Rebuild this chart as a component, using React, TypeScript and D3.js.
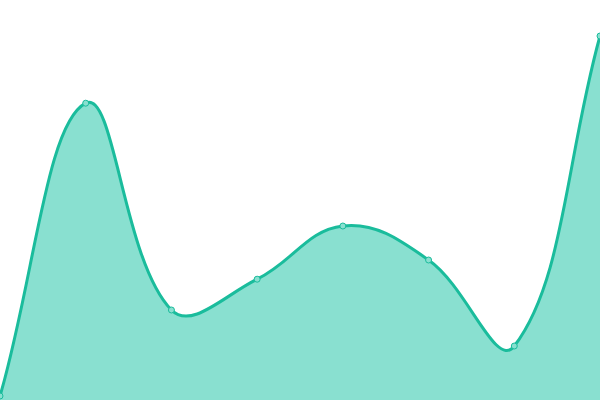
import React, { useEffect, useRef } from 'react';
import * as d3 from 'd3';

const labels = ['0', '1', '2', '3', '4', '5', '6', '7'];
const values = [1, 74.2, 22.5, 30.2, 43.5, 35, 13.5, 91];

type Pt = [number, number];

// tension-based spline (distance weighted), as a d3 curve factory
const curveSpline = (tension: number, top: number, bottom: number) => (context: any) => {
  let pts: Pt[] = [];
  let lineFlag: number = NaN;

  const controls = (prev: Pt, cur: Pt, next: Pt) => {
    const d01 = Math.hypot(cur[0] - prev[0], cur[1] - prev[1]);
    const d12 = Math.hypot(next[0] - cur[0], next[1] - cur[1]);
    let s01 = d01 / (d01 + d12);
    let s12 = d12 / (d01 + d12);
    if (isNaN(s01)) s01 = 0;
    if (isNaN(s12)) s12 = 0;
    const fa = tension * s01;
    const fb = tension * s12;
    const clampY = (v: number) => Math.max(top, Math.min(bottom, v));
    return {
      prev: [cur[0] - fa * (next[0] - prev[0]), clampY(cur[1] - fa * (next[1] - prev[1]))] as Pt,
      next: [cur[0] + fb * (next[0] - prev[0]), clampY(cur[1] + fb * (next[1] - prev[1]))] as Pt,
    };
  };

  return {
    areaStart() { lineFlag = 0; },
    areaEnd() { lineFlag = NaN; },
    lineStart() { pts = []; },
    point(x: number, y: number) { pts.push([+x, +y]); },
    lineEnd() {
      const n = pts.length;
      if (n) {
        if (lineFlag) context.lineTo(pts[0][0], pts[0][1]);
        else context.moveTo(pts[0][0], pts[0][1]);
        const cps = pts.map((p, i) =>
          controls(pts[Math.max(0, i - 1)], p, pts[Math.min(n - 1, i + 1)])
        );
        for (let i = 1; i < n; i++) {
          const a = cps[i - 1].next;
          const b = cps[i].prev;
          context.bezierCurveTo(a[0], a[1], b[0], b[1], pts[i][0], pts[i][1]);
        }
      }
      if (lineFlag || (lineFlag !== 0 && n === 1)) context.closePath();
      lineFlag = 1 - lineFlag;
    },
  };
};

const App: React.FC = () => {
  const svgRef = useRef<SVGSVGElement>(null);

  useEffect(() => {
    if (!svgRef.current) return;
    document.body.style.margin = '0';

    const width = 600;
    const height = 400;
    const svg = d3.select(svgRef.current);
    svg.selectAll('*').remove();
    svg.attr('width', width).attr('height', height);

    const x = d3.scalePoint<string>().domain(labels).range([0, width]);
    const y = d3.scaleLinear().domain([0, 100]).range([height, 0]);

    const data = labels.map((l, i) => ({ l, v: values[i] }));
    const curve = curveSpline(0.4, 0, height) as any;

    const area = d3.area<{ l: string; v: number }>()
      .x(d => x(d.l)!)
      .y0(height)
      .y1(d => y(d.v))
      .curve(curve);

    const line = d3.line<{ l: string; v: number }>()
      .x(d => x(d.l)!)
      .y(d => y(d.v))
      .curve(curve);

    svg.append('path')
      .datum(data)
      .attr('fill', '#89e0d0')
      .attr('d', area);

    svg.append('path')
      .datum(data)
      .attr('fill', 'none')
      .attr('stroke', '#1abc9c')
      .attr('stroke-width', 3)
      .attr('d', line);

    // Points
    svg.selectAll('.pt')
      .data(data)
      .enter()
      .append('circle')
      .attr('class', 'pt')
      .attr('cx', d => x(d.l)!)
      .attr('cy', d => y(d.v))
      .attr('r', 3)
      .attr('fill', '#89e0d0')
      .attr('stroke', '#1abc9c')
      .attr('stroke-width', 1);
  }, []);

  return <svg ref={svgRef} style={{ display: 'block' }}></svg>;
};

export default App;
